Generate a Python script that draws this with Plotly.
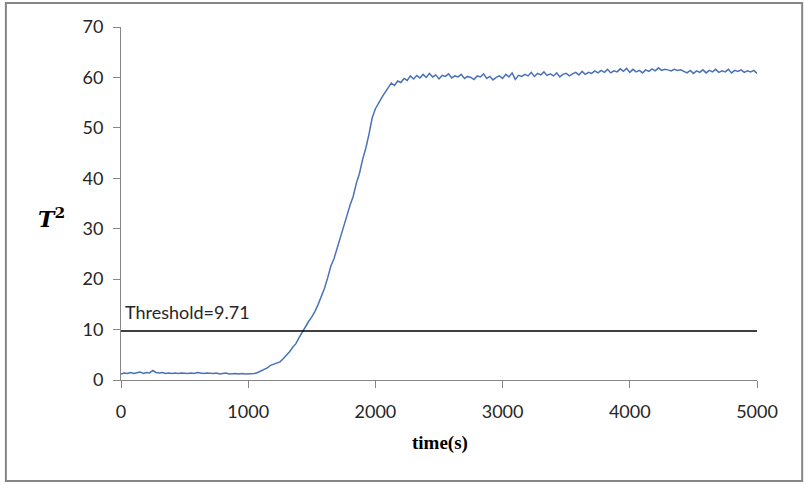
import plotly.graph_objects as go

# time axis, one sample every 25 s
time_s = list(range(0, 5001, 25))

# T^2 statistic
t2 = [
    # 0 - 1050 : in control
    1.2, 1.4, 1.3, 1.5, 1.3, 1.4, 1.6, 1.3, 1.5, 1.4,
    1.9, 1.5, 1.4, 1.5, 1.3, 1.4, 1.3, 1.4, 1.3, 1.4,
    1.3, 1.3, 1.4, 1.3, 1.5, 1.4, 1.3, 1.4, 1.3, 1.3,
    1.4, 1.2, 1.3, 1.4, 1.2, 1.3, 1.3, 1.2, 1.3, 1.2,
    1.2, 1.3, 1.3,
    # 1075 - 2300 : fault develops
    1.5, 1.8, 2.1, 2.4, 2.9, 3.1, 3.3, 3.6, 4.2, 4.8,
    5.6, 6.5, 7.2, 8.4, 9.5, 10.6, 11.6, 12.5, 13.6, 15.0,
    16.6, 18.2, 20.3, 22.6, 24.1, 26.3, 28.6, 30.3, 32.5, 34.6,
    36.4, 39.0, 41.0, 43.8, 46.0, 48.8, 52.0, 53.8, 55.0, 56.0,
    57.0, 58.0, 58.9, 58.4, 59.3, 59.0, 59.8, 59.4, 60.3, 59.7,
    # 2325 - 5000 : plateau
    60.4, 59.9, 60.6, 60.0, 60.8, 60.1, 60.5, 59.7, 60.4, 60.2,
    60.7, 59.9, 60.3, 60.1, 60.6, 59.8, 60.2, 60.0, 59.6, 60.3,
    60.1, 60.7, 59.8, 60.2, 59.5, 60.0, 60.3, 59.8, 60.6, 60.1,
    60.9, 59.6, 60.4, 60.2, 60.6, 60.3, 61.0, 60.2, 60.8, 60.5,
    61.1, 60.4, 60.7, 60.3, 60.9, 60.1, 60.6, 60.8, 60.3, 60.7,
    61.0, 60.5, 61.2, 60.6, 61.0, 60.8, 61.3, 60.9, 61.4, 61.0,
    61.6, 60.9, 61.3, 61.1, 61.7, 61.2, 61.8, 61.0, 61.6, 61.1,
    61.4, 60.9, 61.5, 61.2, 61.7, 61.3, 61.9, 61.4, 61.6, 61.5,
    61.3, 61.6, 61.4, 61.5, 61.2, 60.9, 61.4, 60.8, 61.3, 61.0,
    61.5, 60.9, 61.4, 61.1, 61.6, 61.0, 61.3, 61.1, 61.6, 60.9,
    61.4, 61.2, 61.5, 61.0, 61.3, 61.1, 61.4, 60.8,
]

threshold = 9.71
threshold_x = [0, 5000]

x_ticks = [0, 1000, 2000, 3000, 4000, 5000]
y_ticks = [0, 10, 20, 30, 40, 50, 60, 70]

fig = go.Figure()

fig.add_trace(go.Scatter(
    x=time_s, y=t2, mode="lines",
    line=dict(color="#4a72b8", width=1.5),
    showlegend=False,
))

fig.add_trace(go.Scatter(
    x=threshold_x, y=[threshold, threshold], mode="lines",
    line=dict(color="black", width=1.5),
    showlegend=False,
))

axis_style = dict(
    showgrid=False, zeroline=False,
    showline=True, linecolor="#868686", linewidth=1,
    ticks="outside", ticklen=7, tickcolor="#868686",
    tickfont=dict(family="Lato", size=18, color="#262626"),
)

fig.update_xaxes(range=[0, 5000], tickvals=x_ticks, ticklabelstandoff=8, **axis_style)
fig.update_yaxes(range=[0, 70], tickvals=y_ticks, ticklabelstandoff=6, **axis_style)

# outer chart border
fig.add_shape(
    type="rect", xref="paper", yref="paper",
    x0=-0.181, x1=1.071, y0=-0.286, y1=1.068,
    line=dict(color="#868686", width=2),
)

fig.add_annotation(
    text="<b><i>T</i><sup>2</sup></b>", xref="paper", yref="paper",
    x=-0.110, y=0.459, xanchor="center", yanchor="middle", showarrow=False,
    font=dict(family="DejaVu Serif", size=22, color="black"),
)
fig.add_annotation(
    text="<b>time(s)</b>", xref="paper", yref="paper",
    x=0.502, y=-0.178, xanchor="center", yanchor="middle", showarrow=False,
    font=dict(family="Liberation Serif", size=19, color="black"),
)
fig.add_annotation(
    text="Threshold=9.71", x=0, y=13.5, xanchor="left", yanchor="middle", xshift=2,
    showarrow=False,
    font=dict(family="Lato", size=18, color="#262626"),
)

fig.update_layout(
    width=804, height=485,
    margin=dict(l=121, r=47, t=27, b=105),
    plot_bgcolor="white", paper_bgcolor="white",
)

# drop the default 8px page margin so the figure fills the window
fig.write_html("out.html", config={"displayModeBar": False},
               post_script="document.body.style.margin='0';")
